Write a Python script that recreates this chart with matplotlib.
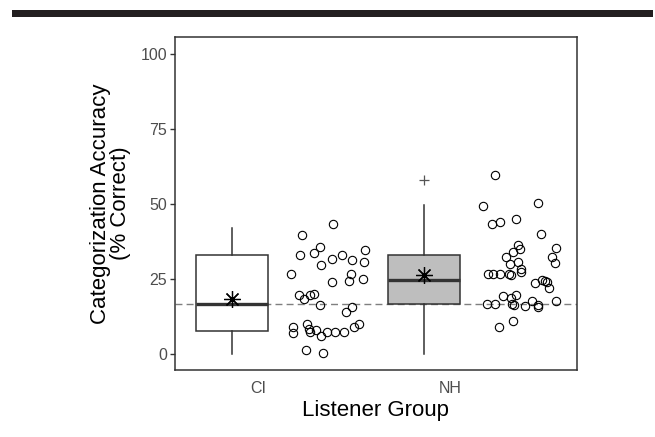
import matplotlib
matplotlib.use('Agg')
import matplotlib.pyplot as plt
from matplotlib.patches import Rectangle

plt.rcParams['font.family'] = ['Liberation Sans', 'DejaVu Sans']

groups = ['CI', 'NH']
chance = 100 / 6

# box summaries
box_whislo = [0.0, 0.0]
box_q1 = [7.8, 16.7]
box_med = [16.9, 24.9]
box_q3 = [33.0, 33.0]
box_whishi = [41.9, 49.8]
box_fliers = [[], [57.9]]
box_means = [18.3, 26.3]
box_fill = ['white', '#BEBEBE']

# individual listeners (jittered x, accuracy)
ci_x = [1.391, 1.230, 1.320, 1.219, 1.291, 1.437, 1.386, 1.487, 1.557, 1.551,
        1.327, 1.171, 1.482, 1.473, 1.546, 1.386, 1.214, 1.240, 1.268, 1.289,
        1.322, 1.490, 1.456, 1.256, 1.183, 1.183, 1.264, 1.270, 1.299, 1.329,
        1.357, 1.399, 1.447, 1.499, 1.527, 1.248, 1.336]
ci_y = [43.3, 39.6, 35.9, 33.2, 33.6, 33.2, 31.6, 31.4, 34.8, 30.7,
        29.8, 26.6, 26.7, 24.4, 25.0, 24.1, 19.7, 18.4, 19.9, 20.0,
        16.4, 15.7, 14.1, 10.1, 9.2, 7.0, 8.5, 7.6, 8.1, 6.2,
        7.4, 7.6, 7.4, 9.1, 10.0, 1.4, 0.5]
nh_x = [2.231, 2.172, 2.457, 2.218, 2.261, 2.343, 2.475, 2.355, 2.327, 2.365,
        2.292, 2.311, 2.355, 2.553, 2.531, 2.544, 2.370, 2.317, 2.198, 2.223,
        2.259, 2.306, 2.443, 2.480, 2.492, 2.506, 2.516, 2.191, 2.231, 2.275,
        2.318, 2.344, 2.323, 2.334, 2.391, 2.426, 2.455, 2.459, 2.553, 2.252,
        2.327, 2.367]
nh_y = [59.8, 49.4, 50.2, 43.5, 44.0, 45.1, 40.0, 36.3, 34.1, 35.2,
        32.3, 30.1, 30.6, 35.3, 32.3, 30.4, 27.3, 26.4, 26.6, 26.6,
        26.9, 26.8, 23.8, 24.6, 24.5, 24.0, 22.1, 16.7, 16.7, 19.4,
        18.8, 19.7, 16.9, 16.5, 16.0, 17.9, 16.6, 15.8, 17.7, 9.2,
        11.1, 28.4]

box_offset = -0.136
box_width = 0.373
edge = '#333333'

fig = plt.figure(figsize=(6.55, 4.37), dpi=100)
ax = fig.add_axes([0.267, 0.153, 0.614, 0.762])

# journal rule across the top
fig.add_artist(Rectangle((12 / 655, 1 - 16.5 / 437), 641 / 655, 6.5 / 437,
                         transform=fig.transFigure, color='#231F20', lw=0))

ax.axhline(chance, color='#7F7F7F', lw=1.0, ls=(0, (5, 3)), zorder=1)

stats = []
for i, g in enumerate(groups):
    stats.append(dict(label=g, whislo=box_whislo[i], q1=box_q1[i], med=box_med[i],
                      q3=box_q3[i], whishi=box_whishi[i], fliers=box_fliers[i]))
pos = [i + 1 + box_offset for i in range(len(groups))]
bp = ax.bxp(stats, positions=pos, widths=box_width, patch_artist=True,
            showcaps=False, manage_ticks=False,
            boxprops=dict(edgecolor=edge, linewidth=1.1),
            whiskerprops=dict(color=edge, linewidth=1.1),
            medianprops=dict(color=edge, linewidth=2.4),
            flierprops=dict(marker='+', markeredgecolor='#555555', markersize=7,
                            markeredgewidth=0.9, linestyle='none'))
for patch, fc in zip(bp['boxes'], box_fill):
    patch.set_facecolor(fc)
    patch.set_zorder(2)

ax.plot(pos, box_means, linestyle='none', marker=(8, 2, 0), markersize=12,
        markeredgewidth=0.9, color='black', zorder=4)

ax.plot(ci_x, ci_y, linestyle='none', marker='o', markersize=6, markerfacecolor='none',
        markeredgecolor='black', markeredgewidth=0.8, zorder=3)
ax.plot(nh_x, nh_y, linestyle='none', marker='o', markersize=6, markerfacecolor='none',
        markeredgecolor='black', markeredgewidth=0.8, zorder=3)

ax.set_xlim(0.566, 2.661)
ax.set_ylim(-5.2, 105.5)
ax.set_xticks([1, 2])
ax.set_xticklabels(groups)
ax.set_yticks([0, 25, 50, 75, 100])
ax.tick_params(axis='y', length=3.6, width=1.0, color=edge, labelsize=11.5,
               labelcolor='#4D4D4D', pad=2)
ax.tick_params(axis='x', length=0, labelsize=11.5, labelcolor='#4D4D4D', pad=8)
for s in ax.spines.values():
    s.set_color(edge)
    s.set_linewidth(1.1)

ax.set_xlabel('Listener Group', fontsize=16, labelpad=3)
ax.set_ylabel('Categorization Accuracy\n(% Correct)', fontsize=16, labelpad=7,
              linespacing=0.95)

fig.savefig('out.png', dpi=100)
